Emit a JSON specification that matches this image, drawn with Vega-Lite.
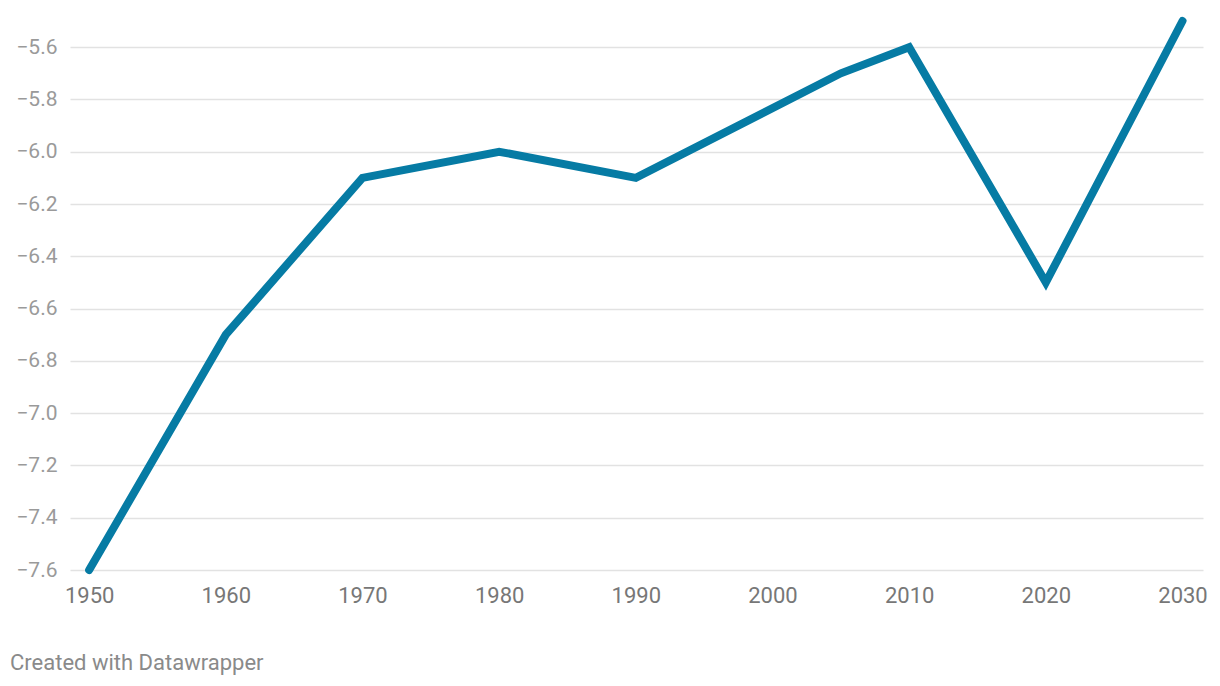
{
  "$schema": "https://vega.github.io/schema/vega-lite/v6.json",
  "width": 1133,
  "height": 549,
  "autosize": {"type": "none"},
  "padding": {"left": 70, "top": 21, "right": 17, "bottom": 116},
  "background": "white",
  "config": {"view": {"stroke": null}, "font": "Roboto"},
  "title": {
    "text": "Created with Datawrapper",
    "orient": "bottom",
    "anchor": "start",
    "frame": "group",
    "dx": -60,
    "offset": 47,
    "font": "Roboto",
    "fontSize": 22,
    "fontWeight": "normal",
    "color": "#8a8a8a"
  },
  "data": {
    "values": [
      {"year": 1950, "value": -7.6},
      {"year": 1960, "value": -6.7},
      {"year": 1970, "value": -6.1},
      {"year": 1980, "value": -6.0},
      {"year": 1990, "value": -6.1},
      {"year": 2005, "value": -5.7},
      {"year": 2010, "value": -5.6},
      {"year": 2020, "value": -6.5},
      {"year": 2030, "value": -5.5}
    ]
  },
  "mark": {"type": "line", "color": "#067ba4", "strokeWidth": 8, "strokeCap": "round", "clip": false},
  "encoding": {
    "x": {
      "field": "year",
      "type": "quantitative",
      "scale": {"domain": [1948.6, 2031.5], "nice": false, "zero": false},
      "axis": {
        "title": null,
        "values": [1950, 1960, 1970, 1980, 1990, 2000, 2010, 2020, 2030],
        "format": "d",
        "grid": false,
        "domain": false,
        "ticks": false,
        "labelFont": "Roboto",
        "labelFontSize": 22,
        "labelColor": "#777777",
        "labelPadding": 15
      }
    },
    "y": {
      "field": "value",
      "type": "quantitative",
      "scale": {"domain": [-7.6, -5.5], "nice": false, "zero": false},
      "axis": {
        "title": null,
        "values": [-7.6, -7.4, -7.2, -7.0, -6.8, -6.6, -6.4, -6.2, -6.0, -5.8, -5.6],
        "format": ".1f",
        "grid": true,
        "gridColor": "#e2e2e2",
        "gridWidth": 1.5,
        "domain": false,
        "ticks": false,
        "labelFont": "Roboto",
        "labelFontSize": 21,
        "labelColor": "#9a9a9a",
        "labelPadding": 13
      }
    }
  }
}
